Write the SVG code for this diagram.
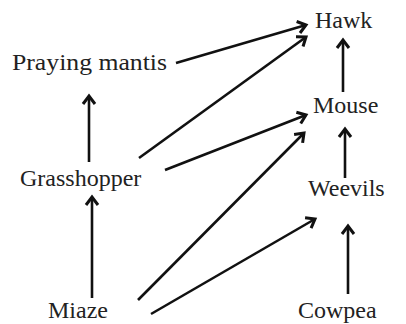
<svg xmlns="http://www.w3.org/2000/svg" width="406" height="324" viewBox="0 0 406 324">
<style>
text{font-family:"Liberation Serif","Times New Roman",serif;font-size:24px;fill:#222}
.c line{stroke:#111;stroke-width:2.6;fill:none;marker-end:url(#ah)}
</style>
<defs>
<marker id="ah" markerUnits="userSpaceOnUse" markerWidth="16" markerHeight="16" refX="11" refY="8" orient="auto">
<path d="M3,2 L11,8 L3,14" fill="none" stroke="#111" stroke-width="3" stroke-linejoin="miter"/>
</marker>
</defs>
<rect width="406" height="324" fill="#fff"/>
<g class="c">
<line x1="176" y1="63" x2="306" y2="25"/>
<line x1="139" y1="158" x2="306" y2="37"/>
<line x1="343" y1="92" x2="343" y2="40"/>
<line x1="165" y1="170" x2="306" y2="115"/>
<line x1="89" y1="162" x2="89" y2="96"/>
<line x1="92" y1="298" x2="92" y2="197"/>
<line x1="138" y1="300" x2="304" y2="133"/>
<line x1="151" y1="314" x2="315" y2="219"/>
<line x1="345" y1="178" x2="345" y2="129"/>
<line x1="348" y1="294" x2="348" y2="226"/>
</g>
<g id="hawk"><text x="315" y="28">Hawk</text></g>
<g id="mantis"><text x="12" y="70" textLength="155" lengthAdjust="spacingAndGlyphs">Praying mantis</text></g>
<g id="mouse"><text x="313" y="113">Mouse</text></g>
<g id="grasshopper"><text x="20" y="186">Grasshopper</text></g>
<g id="weevils"><text x="308" y="196">Weevils</text></g>
<g id="miaze"><text x="48" y="318">Miaze</text></g>
<g id="cowpea"><text x="298" y="318">Cowpea</text></g>
</svg>
